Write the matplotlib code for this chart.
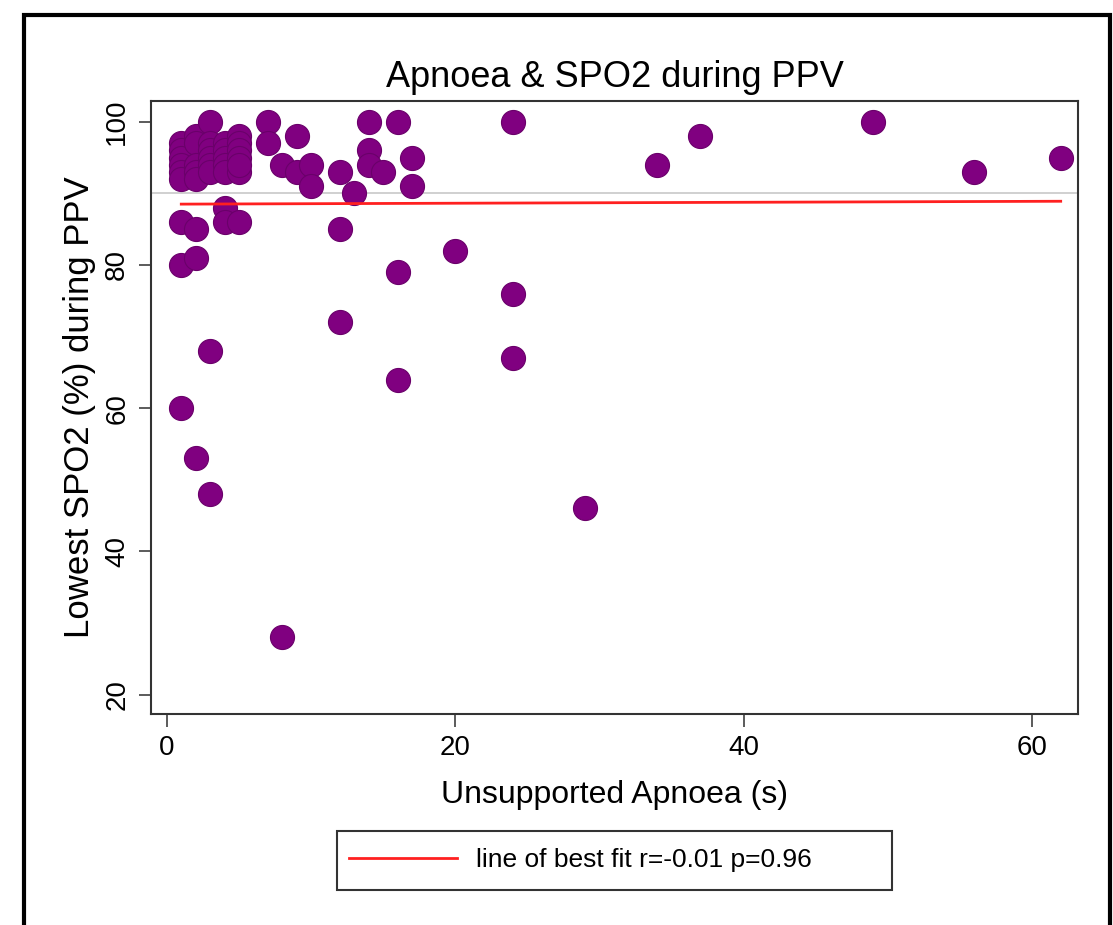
import matplotlib
matplotlib.use("Agg")
import matplotlib.pyplot as plt
from matplotlib.patches import Rectangle

plt.rcParams['font.family'] = ['Liberation Sans', 'DejaVu Sans']

# unsupported apnoea (s) and lowest SPO2 (%) during PPV
apnoea = [1, 1, 1, 1, 1, 1, 1, 1, 1,
          2, 2, 2, 2, 2, 2, 2, 2,
          3, 3, 3, 3, 3, 3, 3, 3,
          4, 4, 4, 4, 4, 4, 4,
          5, 5, 5, 5, 5, 5, 5,
          7, 7, 8, 8, 9, 9, 10, 10,
          12, 12, 12, 13, 14, 14, 14, 15,
          16, 16, 16, 17, 17, 20,
          24, 24, 24, 29, 34, 37, 49, 56, 62]
spo2 = [97, 96, 95, 94, 93, 92, 86, 80, 60,
        98, 97, 94, 93, 92, 85, 81, 53,
        100, 97, 96, 95, 94, 93, 68, 48,
        97, 96, 95, 94, 93, 88, 86,
        98, 97, 96, 95, 93, 86, 94,
        100, 97, 94, 28, 98, 93, 94, 91,
        93, 85, 72, 90, 100, 96, 94, 93,
        100, 79, 64, 95, 91, 82,
        100, 76, 67, 46, 94, 98, 100, 93, 95]

# line of best fit end points
fit_x = [1, 62]
fit_y = [88.5, 88.9]
ref_level = 90

fig = plt.figure(figsize=(11.13, 9.25), dpi=100)
ax = fig.add_axes([151 / 1113, 1 - 714 / 925, 927 / 1113, 613 / 925])

ax.axhline(ref_level, color='#c8c8c8', lw=1.2, zorder=1)
ax.scatter(apnoea, spo2, s=300, color='#800080', edgecolors='#6a006a',
           linewidths=0.8, zorder=2)
line, = ax.plot(fit_x, fit_y, color='#ff2020', lw=2, zorder=3,
                label='line of best fit r=-0.01 p=0.96')

ax.set_xlim(-1.1, 63.2)
ax.set_ylim(17.3, 102.9)
ax.set_xticks([0, 20, 40, 60])
ax.set_yticks([20, 40, 60, 80, 100])
ax.tick_params(direction='out', length=9, width=1.2, color='#404040',
               labelsize=20, pad=6)
for lab in ax.get_yticklabels():
    lab.set_rotation(90)
    lab.set_va('center')
for sp in ax.spines.values():
    sp.set_color('#333333')
    sp.set_linewidth(1.5)

ax.set_title('Apnoea & SPO2 during PPV', fontsize=26, pad=10)
ax.set_xlabel('Unsupported Apnoea (s)', fontsize=23, labelpad=14)
ax.set_ylabel('Lowest SPO2 (%) during PPV', fontsize=25, labelpad=6)

# legend: content on the left of a wider box
leg = fig.legend(handles=[line], loc='center left',
                 bbox_to_anchor=(349 / 1113, 1 - 860 / 925),
                 fontsize=19, frameon=False, borderpad=0, borderaxespad=0,
                 handlelength=4.1, handletextpad=0.7)
fig.patches.append(Rectangle((337 / 1113, 1 - 890 / 925), 555 / 1113, 59 / 925,
                             transform=fig.transFigure, fill=False,
                             edgecolor='#333333', lw=1.5))

# outer frame
fig.patches.append(Rectangle((24 / 1113, -0.05), 1086 / 1113, 1.05 - 15 / 925,
                             transform=fig.transFigure, fill=False,
                             edgecolor='black', lw=3))

fig.savefig('out.png', dpi=100)
